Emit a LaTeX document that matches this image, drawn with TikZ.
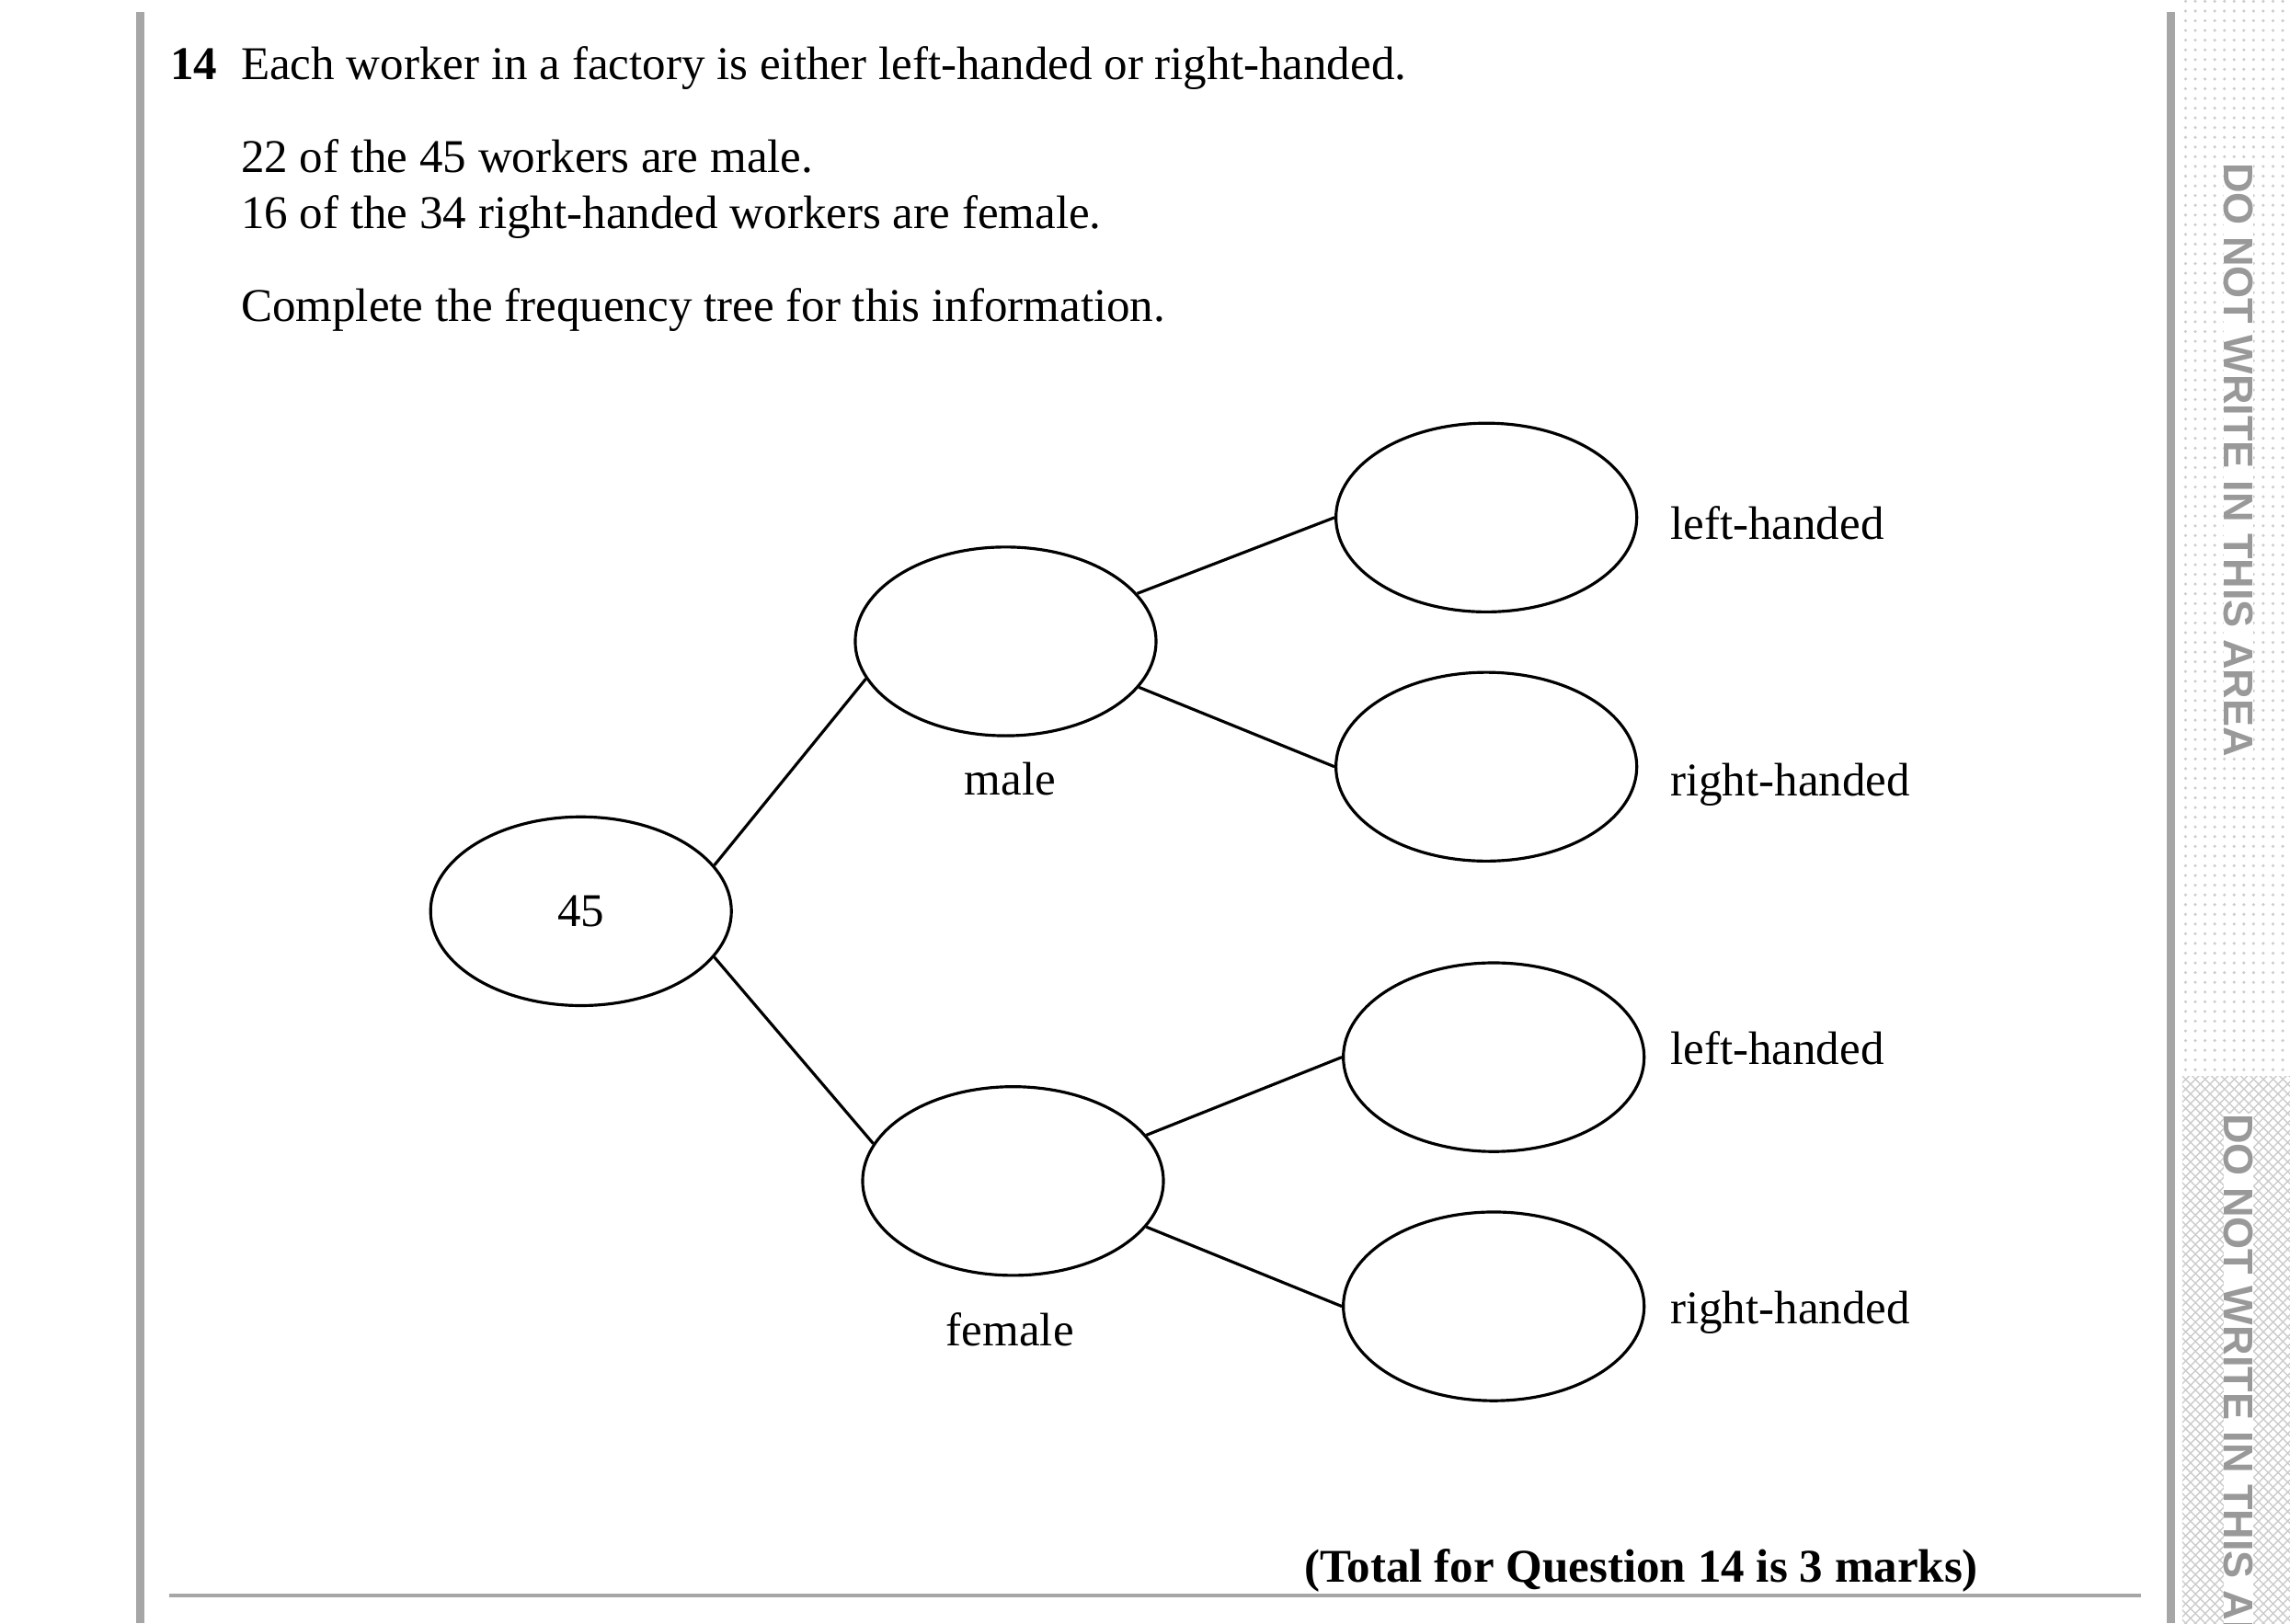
\documentclass[tikz,border=0pt]{standalone}
\usepackage{fontspec}
\setmainfont{Liberation Serif}
\newfontfamily\stripfont{Liberation Sans}
\usetikzlibrary{patterns,shapes.geometric}
\begin{document}
\begin{tikzpicture}[x=0.016cm,y=-0.016cm,
  oval/.style = {draw, ellipse, minimum width=204*0.016cm, minimum height=128*0.016cm, line width=0.9pt},
  lbl/.style = {font=\fontsize{14.5}{17}\selectfont},
  txt/.style = {anchor=base west, inner sep=0pt, font=\fontsize{14.5}{17}\selectfont},
  branch/.style = {line width=0.9pt},
  strip/.style = {anchor=north, rotate=-90, text=gray!80, inner sep=0pt, font=\stripfont\bfseries\fontsize{12.8}{15}\selectfont}]
\useasboundingbox (0,0) rectangle (1553,1101);
% margin strip
\fill[pattern=dots, pattern color=gray!40] (1480,0) rectangle (1553,730);
\fill[pattern=crosshatch, pattern color=gray!40] (1480,730) rectangle (1553,1101);
\begin{scope}
\clip (1478,0) rectangle (1553,1101);
\node[strip, fill=white] at (1518,110) [anchor=west] {DO NOT WRITE IN THIS AREA};
\node[strip, fill=white] at (1518,755) [anchor=west] {DO NOT WRITE IN THIS AREA};
\end{scope}
% frame lines
\draw[gray!70, line width=2.5pt] (95,8) -- (95,1101);
\draw[gray!70, line width=2.5pt] (1472,8) -- (1472,1101);
\draw[gray!70, line width=1.2pt] (115,1082) -- (1452,1082);
% question text
\node[txt, font=\fontsize{14.5}{17}\selectfont\bfseries] (num) at (115,54) {14};
\node[txt] (q1) at (163,54) {Each worker in a factory is either left-handed or right-handed.};
\node[txt] (q2) at (163,117) {22 of the 45 workers are male.};
\node[txt] (q3) at (163,155) {16 of the 34 right-handed workers are female.};
\node[txt] (q4) at (163,218) {Complete the frequency tree for this information.};
% tree
\node[oval, lbl] (root) at (394,618) {45};
\node[oval] (male) at (682,435) {};
\node[oval] (female) at (687,801) {};
\node[oval] (ml) at (1008,351) {};
\node[oval] (mr) at (1008,520) {};
\node[oval] (fl) at (1013,717) {};
\node[oval] (fr) at (1013,886) {};
\draw[branch] (root.19) -- (male.195);
\draw[branch] (root.-19) -- (female.165);
\draw[branch] (male.20) -- (ml.180);
\draw[branch] (male.-19) -- (mr.180);
\draw[branch] (female.19) -- (fl.180);
\draw[branch] (female.-19) -- (fr.180);
\node[lbl] (mlab) at (685,528) {male};
\node[lbl] (flab) at (685,902) {female};
\node[lbl, anchor=west] (mll) at (1125,355) {left-handed};
\node[lbl, anchor=west] (mrl) at (1125,532) {right-handed};
\node[lbl, anchor=west] (fll) at (1125,711) {left-handed};
\node[lbl, anchor=west] (frl) at (1125,890) {right-handed};
\node[anchor=base east, inner sep=0pt, font=\fontsize{14.5}{17}\selectfont\bfseries] (total) at (1342,1073) {(Total for Question 14 is 3 marks)};
\end{tikzpicture}
\end{document}
